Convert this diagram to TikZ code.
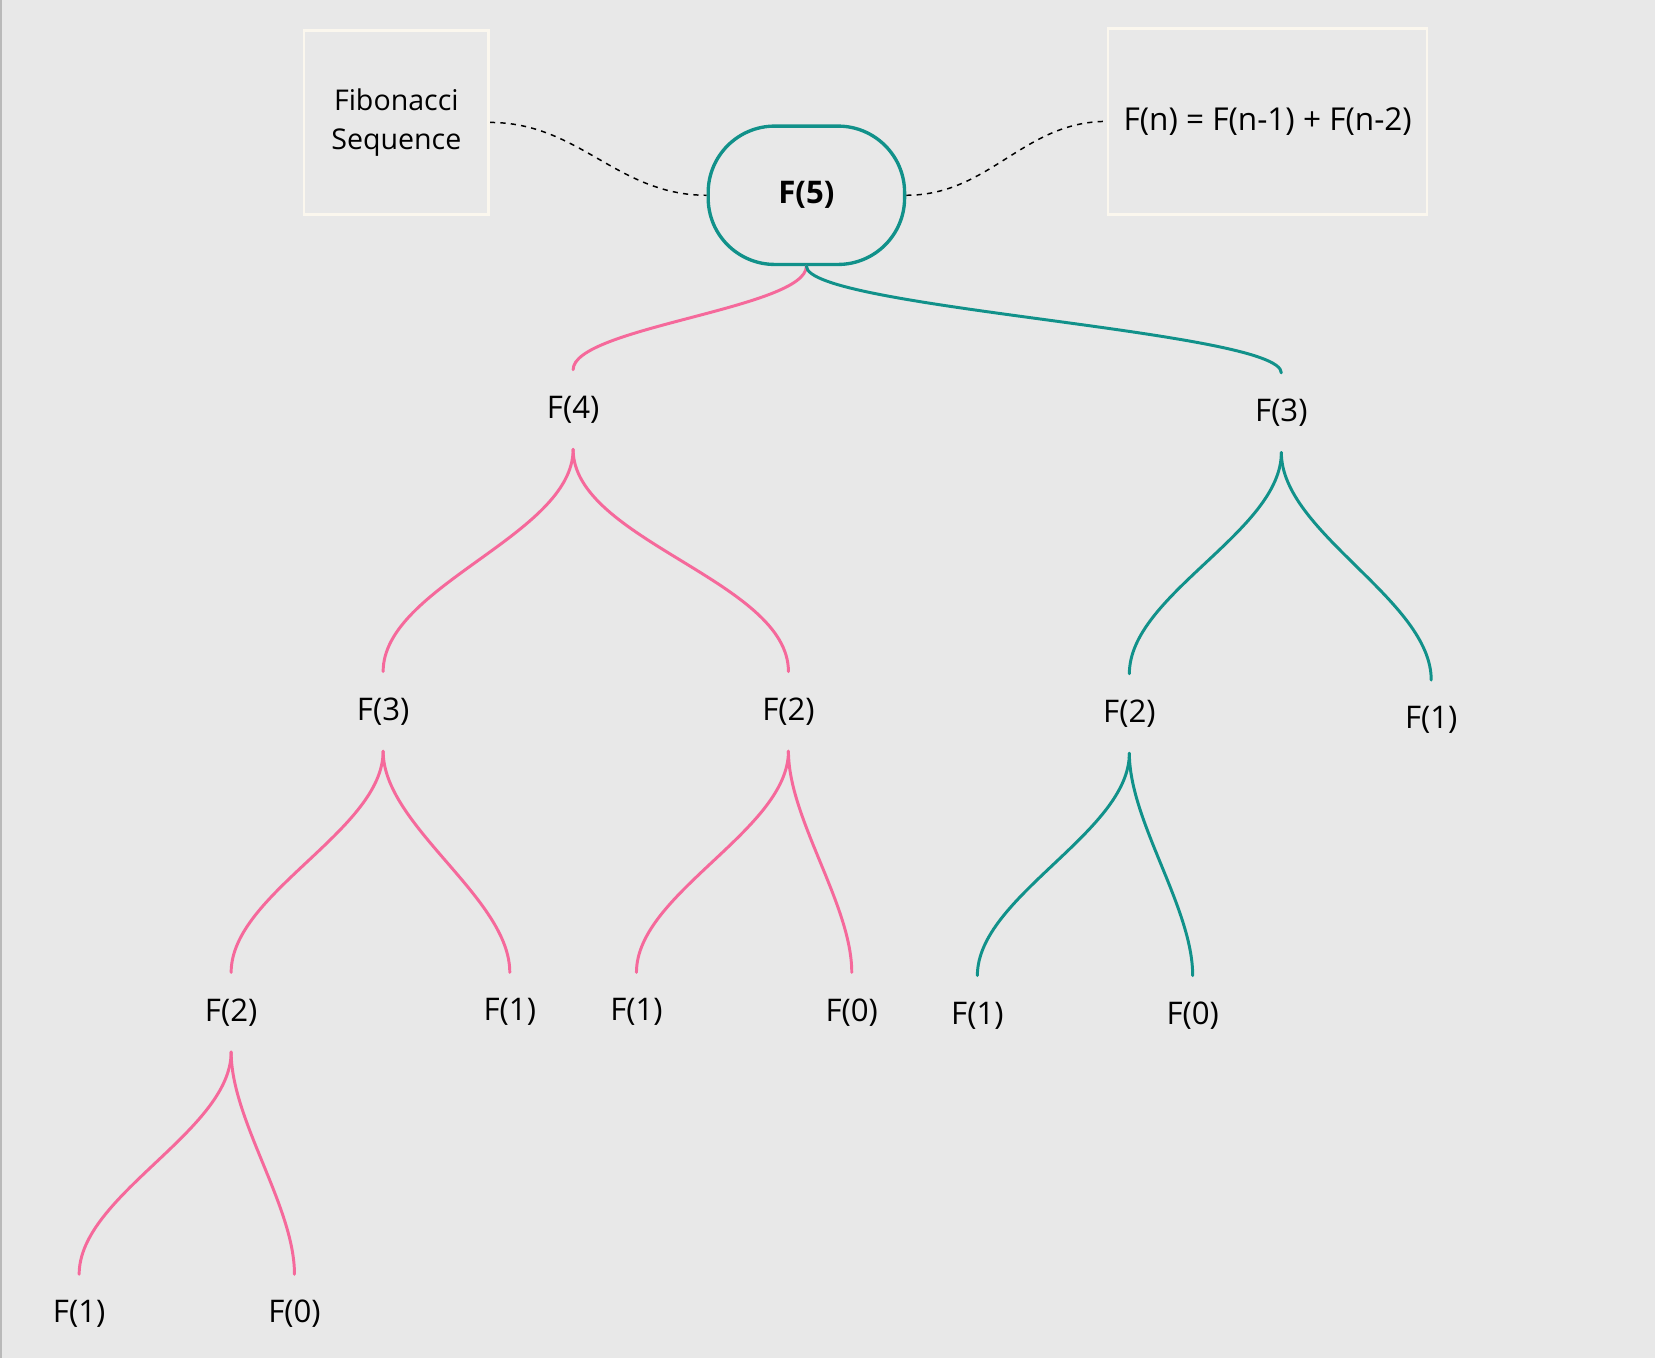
\documentclass[tikz,border=0pt]{standalone}
\usepackage{fontspec}
\setmainfont{Open Sans}
\definecolor{bgc}{HTML}{E8E8E8}
\definecolor{callpink}{HTML}{F5699B}
\definecolor{callteal}{HTML}{11918A}
\definecolor{boxline}{HTML}{FBF7EE}
\begin{document}
\begin{tikzpicture}[x=0.01cm,y=0.01cm,
  call/.style={minimum height=0.74cm, inner sep=0pt,
    font=\fontsize{8.4}{10}\selectfont},
  note/.style={draw=boxline, line width=0.7pt, inner sep=0pt, align=center},
  pinkline/.style={callpink, line width=0.8pt, line cap=round},
  tealline/.style={callteal, line width=0.8pt, line cap=round},
  link/.style={black, line width=0.4pt, dash pattern=on 1.4pt off 1.4pt}]

  % background and frame edge
  \fill[bgc] (0,0) rectangle (1568,-1287);
  \useasboundingbox (0,0) rectangle (1568,-1287);
  \draw[gray!55, line width=0.6pt] (1,0) -- (1,-1287);

  % root and notes
  \node[draw=callteal, line width=0.9pt, rounded corners=6.3mm,
    minimum width=1.86cm, minimum height=1.31cm, inner sep=0pt,
    font=\fontsize{8.4}{10}\selectfont\bfseries] (f5) at (764,-185) {F(5)};
  \node[note, minimum width=1.75cm, minimum height=1.74cm,
    font=\fontsize{7.7}{10.6}\selectfont] (title) at (375.5,-116)
    {Fibonacci\\Sequence};
  \node[note, minimum width=3.02cm, minimum height=1.76cm,
    font=\fontsize{8.5}{10}\selectfont] (rule) at (1201,-115)
    {F(n) = F(n-1) + F(n-2)};
  \draw[link] (title.east) to[out=0,in=180] (f5.west);
  \draw[link] (f5.east) to[out=0,in=180] (rule.west);

  % calls
  \node[call] (f4)  at (543,-388)  {F(4)};
  \node[call] (f3a) at (1214,-391) {F(3)};
  \node[call] (f3b) at (363,-674)  {F(3)};
  \node[call] (f2a) at (747,-674)  {F(2)};
  \node[call] (f2b) at (1070,-676) {F(2)};
  \node[call] (f1a) at (1356,-682) {F(1)};
  \node[call] (f2c) at (219,-959)  {F(2)};
  \node[call] (f1b) at (483,-959)  {F(1)};
  \node[call] (f1c) at (603,-959)  {F(1)};
  \node[call] (f0a) at (807,-959)  {F(0)};
  \node[call] (f1d) at (926,-962)  {F(1)};
  \node[call] (f0b) at (1130,-962) {F(0)};
  \node[call] (f1e) at (75,-1245)  {F(1)};
  \node[call] (f0c) at (279,-1245) {F(0)};

  % branches
  \draw[pinkline] (f5.south) .. controls +(0,-40) and +(0,40) .. (f4.north);
  \draw[tealline] (f5.south) .. controls +(0,-40) and +(0,40) .. (f3a.north);
  \foreach \a/\b in {f4/f3b, f4/f2a, f3b/f2c, f3b/f1b, f2a/f1c, f2a/f0a,
    f2c/f1e, f2c/f0c}
    \draw[pinkline] (\a.south) to[out=-90,in=90,looseness=0.75] (\b.north);
  \foreach \a/\b in {f3a/f2b, f3a/f1a, f2b/f1d, f2b/f0b}
    \draw[tealline] (\a.south) to[out=-90,in=90,looseness=0.75] (\b.north);

\end{tikzpicture}
\end{document}
